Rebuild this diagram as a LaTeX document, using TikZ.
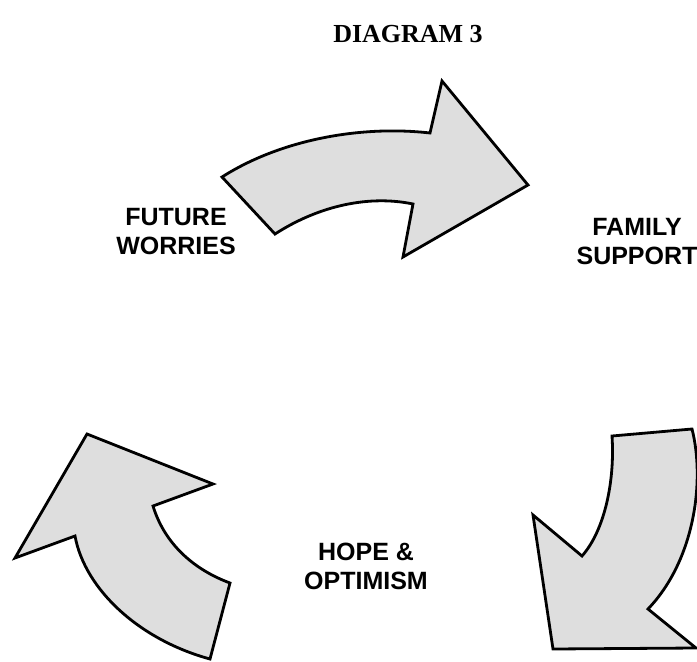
\documentclass[tikz,border=0pt]{standalone}
\usepackage{fontspec}
\setmainfont{Liberation Serif}
\newfontfamily\labelfont{Liberation Sans}
\tikzset{
  bigarrow/.style={draw=black, line width=2.8pt, line join=miter, fill=black!13},
  lbl/.style={font=\labelfont\bfseries\fontsize{25}{29}\selectfont, align=center, inner sep=0pt},
  ttl/.style={font=\bfseries\fontsize{26}{30}\selectfont, inner sep=0pt}
}
\begin{document}
\begin{tikzpicture}[x=1pt,y=-1pt]
\useasboundingbox (0,0) rectangle (697,662);
% title
\node[ttl] (title) at (408,34) {DIAGRAM 3};
% top arrow
\draw[bigarrow] (222,177) -- (275,234) .. controls (320,205) and (370,195) .. (413,204)
  -- (403,257) -- (528,185) -- (442,81) -- (430,133)
  .. controls (360,125) and (280,140) .. (222,177) -- cycle;
% right arrow
\draw[bigarrow] (612,436) -- (692,429) .. controls (705,480) and (695,560) .. (648,609)
  -- (696,648) -- (553,649) -- (533,515) -- (582,556)
  .. controls (605,530) and (615,480) .. (612,436) -- cycle;
% left arrow
\draw[bigarrow] (87,434) -- (213,484) -- (153,506) .. controls (165,545) and (195,570) .. (230,583)
  -- (210,659) .. controls (140,640) and (85,590) .. (75,536) -- (15,558) -- cycle;
% labels
\node[lbl] (fw) at (176,232) {FUTURE\\WORRIES};
\node[lbl] (fs) at (637,242) {FAMILY\\SUPPORT};
\node[lbl] (ho) at (366,566) {HOPE \&\\OPTIMISM};
\end{tikzpicture}
\end{document}
